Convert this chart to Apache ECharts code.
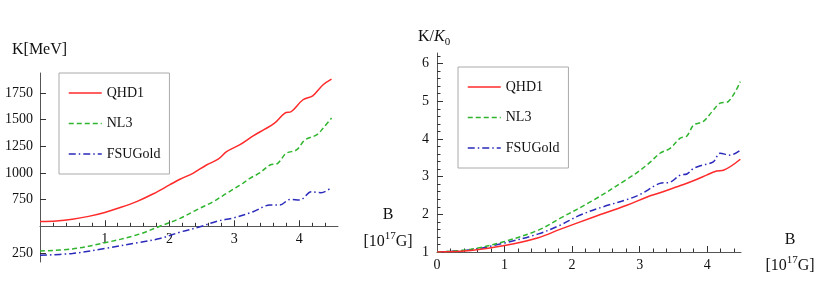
<!DOCTYPE html>
<html><head><meta charset="utf-8">
<script src="https://cdn.jsdelivr.net/npm/echarts@6/dist/echarts.min.js"></script>
<style>html,body{margin:0;padding:0;background:#fff}#c{width:830px;height:291px}</style>
</head><body><div id="c"></div>
<script>
const seriesNames = ['QHD1', 'NL3', 'FSUGold'];

// Left panel: K [MeV] vs B [10^17 G]
const qhd1B = [0, 0.25, 0.5, 0.75, 1.0, 1.25, 1.5, 1.75, 2.0, 2.16, 2.36, 2.57, 2.75, 2.88, 3.08, 3.29, 3.47, 3.62, 3.78, 3.88, 4.06, 4.21, 4.37, 4.5];
const qhd1K = [545, 550, 566, 593, 630, 678, 734, 805, 888, 941, 997, 1075, 1129, 1200, 1263, 1348, 1411, 1467, 1562, 1577, 1687, 1724, 1828, 1881];
const nl3B  = [0, 0.5, 1.0, 1.5, 1.85, 2.16, 2.41, 2.67, 2.88, 3.13, 3.24, 3.39, 3.55, 3.67, 3.80, 3.96, 4.09, 4.27, 4.37, 4.5];
const nl3K  = [268, 288, 345, 420, 500, 574, 652, 730, 809, 903, 950, 1000, 1075, 1091, 1185, 1216, 1310, 1357, 1420, 1515];
const fsuB  = [0, 0.5, 1.0, 1.5, 1.85, 2.16, 2.47, 2.75, 2.96, 3.29, 3.55, 3.70, 3.86, 4.01, 4.19, 4.34, 4.5];
const fsuK  = [228, 245, 292, 345, 385, 445, 495, 551, 574, 636, 699, 699, 752, 746, 824, 815, 865];

// Right panel: K/K0 vs B
const qhd1RB = [0, 0.5, 1.0, 1.5, 1.82, 2.32, 2.81, 3.11, 3.30, 3.50, 3.65, 3.85, 3.99, 4.14, 4.24, 4.49];
const qhd1R  = [1, 1.04, 1.17, 1.38, 1.60, 1.93, 2.24, 2.46, 2.57, 2.70, 2.79, 2.93, 3.04, 3.15, 3.17, 3.46];
const nl3RB  = [0, 0.5, 1.0, 1.5, 1.82, 2.32, 2.83, 3.01, 3.16, 3.30, 3.45, 3.60, 3.70, 3.80, 3.94, 4.07, 4.19, 4.31, 4.49];
const nl3R   = [1, 1.07, 1.28, 1.58, 1.89, 2.38, 2.95, 3.17, 3.39, 3.62, 3.75, 4.02, 4.08, 4.37, 4.46, 4.72, 4.95, 4.99, 5.52];
const fsuRB  = [0, 0.5, 1.0, 1.5, 1.82, 2.12, 2.46, 2.81, 3.01, 3.30, 3.45, 3.60, 3.70, 3.80, 3.94, 4.09, 4.19, 4.34, 4.49];
const fsuR   = [1, 1.06, 1.24, 1.48, 1.71, 1.98, 2.20, 2.39, 2.53, 2.82, 2.85, 3.04, 3.07, 3.22, 3.31, 3.39, 3.62, 3.57, 3.70];

// Tick labels
const leftXLabels = [1, 2, 3, 4];
const leftYLabels = [250, 750, 1000, 1250, 1500, 1750];
const rightXLabels = [0, 1, 2, 3, 4];
const rightYLabels = [1, 2, 3, 4, 5, 6];

const FONT = '"Liberation Serif", "Times New Roman", serif';
const AXIS_COLOR = '#555';
const TICK_COLOR = '#333';
const COLORS = ['#ff2a2a', '#2fb52f', '#2a2abb'];
const DASH = ['solid', [5, 3], [7, 3, 1.5, 3]];

function pairs(bs, vs) { return bs.map((b, i) => [b, vs[i]]); }
function minorList(max, step) {
  const out = [];
  for (let k = 1; k * step <= max + 1e-9; k++) {
    const v = +(k * step).toFixed(4);
    if (Math.abs(v - Math.round(v)) > 1e-6) out.push(v);
  }
  return out;
}

const L = { left: 40, top: 73, width: 298, height: 189, xMax: 4.6, yMin: 165, yMax: 1938, cross: 500 };
const R = { left: 437, top: 53, width: 304, height: 199, xMax: 4.5, yMin: 1, yMax: 6.28 };
const xOffset = -(L.cross - L.yMin) / (L.yMax - L.yMin) * L.height;

const labelStyle = { fontFamily: FONT, fontSize: 14, color: '#111', formatter: v => String(v) };

function xAxisPair(grid, max, offset, labels, majors, minors) {
  return [
    { gridIndex: grid, type: 'value', min: 0, max: max, position: 'bottom', offset: offset,
      axisLine: { show: true, onZero: false, lineStyle: { color: AXIS_COLOR, width: 1 } },
      axisTick: { show: true, inside: true, length: 6, customValues: majors, lineStyle: { color: TICK_COLOR } },
      axisLabel: Object.assign({ customValues: labels, margin: 6 }, labelStyle),
      splitLine: { show: false } },
    { gridIndex: grid, type: 'value', min: 0, max: max, position: 'bottom', offset: offset,
      axisLine: { show: false, onZero: false },
      axisTick: { show: true, inside: true, length: 3.5, customValues: minors, lineStyle: { color: TICK_COLOR } },
      axisLabel: { show: false }, splitLine: { show: false } }
  ];
}

const xAxes = [].concat(
  xAxisPair(0, L.xMax, xOffset, leftXLabels, [1, 2, 3, 4], minorList(4.4, 0.2)),
  xAxisPair(1, R.xMax, 0, rightXLabels, [1, 2, 3, 4], minorList(4.4, 0.2))
);

const yAxes = [
  { gridIndex: 0, type: 'value', min: L.yMin, max: L.yMax, position: 'left',
    axisLine: { show: true, onZero: false, lineStyle: { color: AXIS_COLOR } },
    axisTick: { show: true, inside: true, length: 6, customValues: leftYLabels, lineStyle: { color: TICK_COLOR } },
    axisLabel: Object.assign({ customValues: leftYLabels, margin: 7 }, labelStyle),
    splitLine: { show: false } },
  { gridIndex: 0, type: 'value', min: L.yMin, max: L.yMax, position: 'left', show: false },
  { gridIndex: 1, type: 'value', min: R.yMin, max: R.yMax, position: 'left',
    axisLine: { show: true, onZero: false, lineStyle: { color: AXIS_COLOR } },
    axisTick: { show: true, inside: true, length: 6, customValues: [2, 3, 4, 5, 6], lineStyle: { color: TICK_COLOR } },
    axisLabel: Object.assign({ customValues: rightYLabels, margin: 8 }, labelStyle),
    splitLine: { show: false } },
  { gridIndex: 1, type: 'value', min: R.yMin, max: R.yMax, position: 'left',
    axisLine: { show: false, onZero: false },
    axisTick: { show: true, inside: true, length: 3.5, customValues: minorList(6.2, 0.2).filter(v => v > 1), lineStyle: { color: TICK_COLOR } },
    axisLabel: { show: false }, splitLine: { show: false } }
];

const leftData = [pairs(qhd1B, qhd1K), pairs(nl3B, nl3K), pairs(fsuB, fsuK)];
const rightData = [pairs(qhd1RB, qhd1R), pairs(nl3RB, nl3R), pairs(fsuRB, fsuR)];

const series = [];
seriesNames.forEach((name, i) => {
  const common = { name: name, type: 'line', symbol: 'none', showSymbol: false, smooth: 0.35,
    lineStyle: { color: COLORS[i], width: 1.5, type: DASH[i] }, itemStyle: { color: COLORS[i] }, z: 3 - i };
  series.push(Object.assign({}, common, { xAxisIndex: 0, yAxisIndex: 0, data: leftData[i] }));
  series.push(Object.assign({}, common, { xAxisIndex: 2, yAxisIndex: 2, data: rightData[i] }));
});

function legendBox(left, top) {
  return { data: seriesNames, orient: 'vertical', left: left, top: top,
    padding: [13, 9, 13, 9], itemGap: 16.5, itemWidth: 33, itemHeight: 14,
    backgroundColor: '#fff', borderColor: '#aaa', borderWidth: 1,
    selectedMode: false,
    itemStyle: { opacity: 0 },
    lineStyle: { width: 1.5 },
    textStyle: { fontFamily: FONT, fontSize: 14, color: '#111', lineHeight: 14 } };
}

const rich = {
  a: { fontFamily: FONT, fontSize: 16, color: '#111', lineHeight: 22 },
  i: { fontFamily: FONT, fontSize: 16, color: '#111', lineHeight: 22, fontStyle: 'italic' },
  sup: { fontFamily: FONT, fontSize: 11, color: '#111', lineHeight: 11, verticalAlign: 'top' },
  sub: { fontFamily: FONT, fontSize: 11, color: '#111', lineHeight: 11, verticalAlign: 'bottom' }
};
function txt(x, y, text, align) {
  return { type: 'text', x: x, y: y, silent: true,
    style: { text: text, rich: rich, align: align || 'left', verticalAlign: 'middle',
      fontFamily: FONT, fontSize: 16, fill: '#111' } };
}

const option = {
  animation: false,
  backgroundColor: '#fff',
  grid: [
    { left: L.left, top: L.top, width: L.width, height: L.height },
    { left: R.left, top: R.top, width: R.width, height: R.height }
  ],
  xAxis: xAxes,
  yAxis: yAxes,
  legend: [legendBox(59, 73), legendBox(458, 67)],
  series: series,
  graphic: [
    txt(12, 50, '{a|K[MeV]}'),
    txt(388, 215, '{a|B}', 'center'),
    txt(388, 242, '{a|[10}{sup|17}{a|G]}', 'center'),
    txt(418, 37, '{a|K/}{i|K}{sub|0}'),
    txt(790, 240, '{a|B}', 'center'),
    txt(790, 266, '{a|[10}{sup|17}{a|G]}', 'center')
  ]
};

const chart = echarts.init(document.getElementById('c'), null, { renderer: 'canvas' });
chart.setOption(option);
</script>
</body></html>
